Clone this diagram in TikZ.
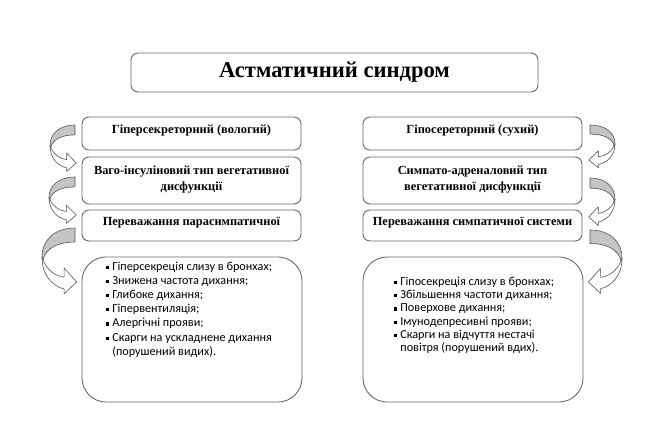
\documentclass[tikz,border=0pt]{standalone}
\usepackage{fontspec}
\setmainfont{Liberation Serif}
\newfontfamily\listfont{Carlito}
\definecolor{boxc}{HTML}{6A6A6A}
\definecolor{arrc}{HTML}{555555}
\definecolor{arrg}{HTML}{C4C4C4}
\newcommand\lbul{\rule[1.3pt]{3.2pt}{3.2pt}}
\newcommand\cvarrow[4]{%
\begin{scope}[shift={(#1,#2)}, xscale=#3, yscale=#4]
 \filldraw[cband, fill=arrg] (1,0) .. controls (0.39,0) and (0,0.22) .. (0,0.54) -- (0.03,0.59) .. controls (0.12,0.37) and (0.48,0.26) .. (1,0.26) -- cycle;
 \filldraw[cband, fill=white] (0,0.54) .. controls (0,0.87) and (0.3,1.07) .. (0.67,1.13) -- (0.67,1.22) -- (1.05,1.0) -- (0.67,0.74) -- (0.67,0.91) .. controls (0.4,0.89) and (0.15,0.78) .. (0.03,0.59) -- cycle;
\end{scope}}
\begin{document}
\begin{tikzpicture}[x=1pt,y=-1pt,
  box/.style={draw=boxc, line width=0.9pt, rounded corners=7pt, fill=white, inner sep=0pt},
  btext/.style={font=\bfseries\fontsize{12.4}{15.5}\selectfont, align=center, inner sep=0pt},
  ltext/.style={anchor=north west, inner sep=0pt},
  cband/.style={draw=arrc, line width=0.6pt, line join=round}]
\useasboundingbox[fill=white] (0,0) rectangle (650,424);

% title
\node[box, minimum width=407pt, minimum height=39pt] (title) at (334.5,72.5) {};
\node[font=\bfseries\fontsize{22.6}{26}\selectfont, inner sep=0pt] (titletxt) at (title.center) {Астматичний синдром};

% left column
\node[box, minimum width=219pt, minimum height=33pt] (l1) at (191.5,133.5) {};
\node[btext] (l1t) at ([yshift=3pt]l1.center) {Гіперсекреторний (вологий)};
\node[box, minimum width=219pt, minimum height=47pt] (l2) at (191.5,180.5) {};
\node[btext] (l2t) at ([yshift=1pt]l2.center) {Ваго-інсуліновий тип вегетативної\\дисфункції};
\node[box, minimum width=219pt, minimum height=31pt] (l3) at (191.5,225.5) {};
\node[btext] (l3t) at ([yshift=3pt]l3.center) {Переважання парасимпатичної};
\node[box, rounded corners=24pt, minimum width=220pt, minimum height=145pt] (l4) at (192,329.5) {};
\node[ltext] (l4t) at (106,260) {\listfont\fontsize{12.2}{14.2}\selectfont
\begin{tabular}{@{}l@{\hspace{3pt}}l@{}}
\lbul & Гіперсекреція слизу в бронхах;\\
\lbul & Знижена частота дихання;\\
\lbul & Глибоке дихання;\\
\lbul & Гіпервентиляція;\\
\lbul & Алергічні прояви;\\
\lbul & Скарги на ускладнене дихання\\
 & (порушений видих).
\end{tabular}};

% right column
\node[box, minimum width=219pt, minimum height=33pt] (r1) at (472.5,133.5) {};
\node[btext] (r1t) at ([yshift=3pt]r1.center) {Гіпосереторний (сухий)};
\node[box, minimum width=219pt, minimum height=47pt] (r2) at (472.5,180.5) {};
\node[btext] (r2t) at ([yshift=1pt]r2.center) {Симпато-адреналовий тип\\вегетативної дисфункції};
\node[box, minimum width=219pt, minimum height=31pt] (r3) at (472.5,225.5) {};
\node[btext] (r3t) at ([yshift=3pt]r3.center) {Переважання симпатичної системи};
\node[box, rounded corners=24pt, minimum width=220pt, minimum height=145pt] (r4) at (473,329.5) {};
\node[ltext] (r4t) at (394,275.7) {\listfont\fontsize{12.2}{13.3}\selectfont
\begin{tabular}{@{}l@{\hspace{3pt}}l@{}}
\lbul & Гіпосекреція слизу в бронхах;\\
\lbul & Збільшення частоти дихання;\\
\lbul & Поверхове дихання;\\
\lbul & Імунодепресивні прояви;\\
\lbul & Скарги на відчуття нестачі\\
 & повітря (порушений вдих).
\end{tabular}};

% curved arrows
\cvarrow{50}{125}{25}{38}
\cvarrow{49}{177}{26}{38}
\cvarrow{42}{228}{33}{54}
\cvarrow{615}{125}{-25}{35}
\cvarrow{615}{178}{-25}{39}
\cvarrow{622}{230}{-32}{52}
\end{tikzpicture}
\end{document}
